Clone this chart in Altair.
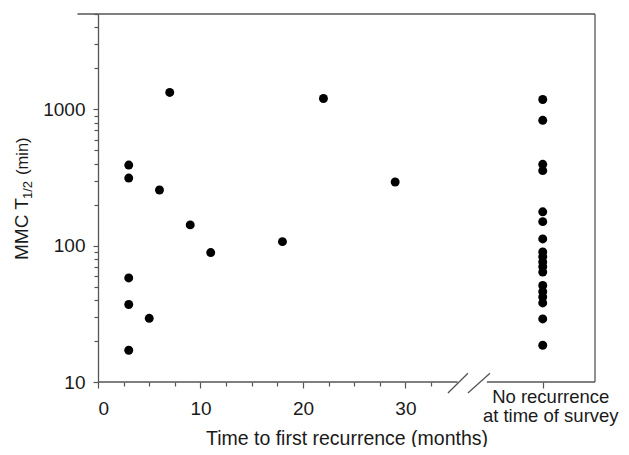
import altair as alt
import pandas as pd

# ---- data ----
recur_months = [3, 3, 3, 3, 3, 5, 6, 7, 9, 11, 18, 22, 29]
recur_mmc = [390, 313, 58, 37, 17.1, 29.3, 256, 1330, 142, 89, 107, 1200, 293]
no_recur_mmc = [1180, 830, 395, 355, 177, 150, 112, 90, 83, 76, 70, 64,
                51, 46, 42, 38, 29, 18.6]
x_major = [0, 10, 20, 30]
y_major = [10, 100, 1000]
no_recur_text = "No recurrence\nat time of survey"
x_title = "Time to first recurrence (months)"
y_title_parts = ["MMC T", "1/2", "(min)"]

# ---- layout constants ----
NO_RECUR_X = 43.4
X_MAX = 48.5
Y_MIN, Y_MAX = 10, 5000
FONT = "Liberation Sans"
LINE = "#555555"

x_ticks = [i * 2.5 for i in range(14)] + [NO_RECUR_X]
y_ticks = [m * d for d in (10, 100) for m in range(1, 10)] + [1000, 2000, 3000, 4000, 5000]

pts = pd.DataFrame({
    "x": recur_months + [NO_RECUR_X] * len(no_recur_mmc),
    "y": recur_mmc + no_recur_mmc,
})

x_scale = alt.Scale(domain=[0, X_MAX], nice=False, zero=False)
y_scale = alt.Scale(type="log", domain=[Y_MIN, Y_MAX], nice=False)

xmaj = "[" + ",".join(str(v) for v in x_major) + "]"
ymaj = "[" + ",".join(str(v) for v in y_major) + "]"

x_axis = alt.Axis(
    values=x_ticks,
    labelExpr=f"indexof({xmaj}, datum.value) >= 0 ? format(datum.value, 'd') : ''",
    tickSize={"condition": {"test": f"indexof({xmaj}, datum.value) >= 0 || datum.value > 40", "value": 6}, "value": 4},
    domain=False, grid=False, tickColor=LINE, tickWidth=1.2,
    labelFont=FONT, labelFontSize=19, labelColor="#1a1a1a", labelPadding=11,
    title=x_title, titleFont=FONT, titleFontSize=19.5, titleFontWeight="normal",
    titleColor="#1a1a1a", titleBaseline="alphabetic", titleY=62,
)
y_axis = alt.Axis(
    values=y_ticks,
    labelExpr=f"indexof({ymaj}, datum.value) >= 0 ? format(datum.value, 'd') : ''",
    tickSize={"condition": {"test": f"indexof({ymaj}, datum.value) >= 0", "value": 5}, "value": 4},
    domain=True, domainColor=LINE, domainWidth=1.3, grid=False,
    tickColor=LINE, tickWidth=1.2,
    labelFont=FONT, labelFontSize=19, labelColor="#1a1a1a", labelPadding=8,
    title=None,
)

points = alt.Chart(pts).mark_circle(size=80, color="black", opacity=1).encode(
    x=alt.X("x:Q", scale=x_scale, axis=x_axis),
    y=alt.Y("y:Q", scale=y_scale, axis=y_axis),
)

# frame: top line, right line, broken bottom axis, break slashes
frame = pd.DataFrame({
    "x":  [-2, X_MAX, 0, 37.95, 34.15, 36.1],
    "x2": [X_MAX, X_MAX, 35.1, X_MAX, 36.1, 38.25],
    "y":  [Y_MAX, Y_MIN, Y_MIN, Y_MIN, 8.3, 8.3],
    "y2": [Y_MAX, Y_MAX, Y_MIN, Y_MIN, 11.6, 11.6],
})
rules = alt.Chart(frame).mark_rule(color=LINE, strokeWidth=1.3).encode(
    x=alt.X("x:Q", scale=x_scale, axis=x_axis), x2="x2:Q",
    y=alt.Y("y:Q", scale=y_scale, axis=y_axis), y2="y2:Q",
)

label_df = pd.DataFrame({"x": [NO_RECUR_X], "y": [Y_MIN], "t": [no_recur_text]})
no_recur_label = alt.Chart(label_df).mark_text(
    lineBreak="\n", align="center", baseline="alphabetic", dx=8, dy=21,
    fontSize=18.5, lineHeight=19, font=FONT, color="#1a1a1a",
).encode(
    x=alt.X("x:Q", scale=x_scale, axis=x_axis),
    y=alt.Y("y:Q", scale=y_scale, axis=y_axis),
    text="t:N",
)

def ytitle_piece(txt, size, px, py):
    return alt.Chart(pd.DataFrame({"t": [txt]})).mark_text(
        angle=270, align="left", baseline="alphabetic", fontSize=size,
        font=FONT, color="#1a1a1a",
    ).encode(text="t:N", x=alt.value(px), y=alt.value(py))

ytitle = (ytitle_piece(y_title_parts[0], 19, -70, 246)
          + ytitle_piece(y_title_parts[1], 13, -66, 185)
          + ytitle_piece(y_title_parts[2], 16.5, -70, 161))

chart = alt.layer(points, rules, no_recur_label, ytitle).properties(
    width=497, height=368,
    autosize=alt.AutoSizeParams(type="none"),
    padding={"left": 90, "top": 6, "right": 26, "bottom": 65},
    background="white",
).configure_view(stroke=None)

chart.save("out.html", embed_options={"renderer": "svg", "actions": False})
